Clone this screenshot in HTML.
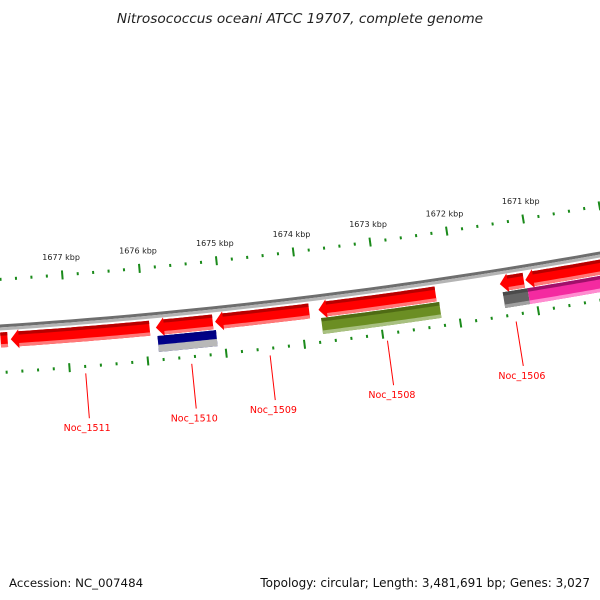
<!DOCTYPE html>
<html><head><meta charset="utf-8"><style>
html,body{margin:0;padding:0;background:#fff;}
svg{display:block;font-family:"DejaVu Sans","Liberation Sans",sans-serif;}
</style></head><body>
<svg id="map" width="600" height="600" viewBox="0 0 600 600">
<text x="300" y="23" text-anchor="middle" font-size="13.7" font-style="italic" fill="#222">Nitrosococcus oceani ATCC 19707, complete genome</text>
<g id="layer"></g>
<text x="9" y="587" font-size="11.8" fill="#111">Accession: NC_007484</text>
<text x="590" y="587" text-anchor="end" font-size="12" fill="#111">Topology: circular; Length: 3,481,691 bp; Genes: 3,027</text>
</svg>
<script>
// data
const tickLabelsKbp = [1671,1672,1673,1674,1675,1676,1677];
const featStart = [1677.85,1677.72,1675.86,1675.10,1673.77,1671.43,1671.10];
const featEnd   = [1677.76,1675.94,1675.13,1673.89,1672.26,1671.12,1669.9];
const featArrow = [false,true,true,true,true,true,true];
const ring2Start = [1675.85,1673.75,1671.41,1671.09];
const ring2End   = [1675.10,1672.23,1671.09,1669.9];
const ring2Color = ["blue","green","gray","pink"];
const geneNames = ["Noc_1511","Noc_1510","Noc_1509","Noc_1508","Noc_1506"];
const geneKbp   = [1676.8,1675.45,1674.45,1672.95,1671.3];
const labelLen  = [55,55,55,55,55];

const PAL={red:['#b80000','#ff0000','#ff7878'],blue:['#000080','#000088','#b8b8b8'],green:['#4f6b14','#6b8e23','#a8c080'],gray:['#4a4a4a','#646464','#a0a0a0'],pink:['#a0106a','#f42aa0','#ff8cd0']};

const P=[[0,327.5],[300,299.5],[600,254.5]];
function circ(a,b,c){const d=2*(a[0]*(b[1]-c[1])+b[0]*(c[1]-a[1])+c[0]*(a[1]-b[1]));
const s=p=>p[0]*p[0]+p[1]*p[1];
const ux=(s(a)*(b[1]-c[1])+s(b)*(c[1]-a[1])+s(c)*(a[1]-b[1]))/d;
const uy=(s(a)*(c[0]-b[0])+s(b)*(a[0]-c[0])+s(c)*(b[0]-a[0]))/d;
return [ux,uy,Math.hypot(a[0]-ux,a[1]-uy)];}
const CC=circ(P[0],P[1],P[2]);
const CX=CC[0], CY=CC[1], R0=CC[2];
function angX(x){const dx=x-CX;const y=CY+Math.sqrt(R0*R0-dx*dx);return Math.atan2(y-CY,dx);}
const A1677=angX(66), A1671=angX(531);
const ang=k=>A1677+(k-1677)*(A1671-A1677)/(1671-1677);
const pt=(k,dr)=>{const a=ang(k),r=R0-dr;return [CX+r*Math.cos(a),CY+r*Math.sin(a)];};
const layer=document.getElementById('layer');
const NS='http://www.w3.org/2000/svg';
function mk(t,attrs){const e=document.createElementNS(NS,t);for(const k in attrs)e.setAttribute(k,attrs[k]);layer.appendChild(e);return e;}
const kpp=(1677-1671)/465;
function band(k1,k2,r1,r2,arrow){const pts=[];const n=40;
 const head=arrow?Math.min(8*kpp,(k1-k2)):0;const ks=k1-head;
 for(let i=0;i<=n;i++){pts.push(pt(ks+(k2-ks)*i/n,r1));}
 for(let i=n;i>=0;i--){pts.push(pt(ks+(k2-ks)*i/n,r2));}
 if(arrow){pts.push(pt(ks,r2-2));pts.push(pt(k1,(r1+r2)/2));pts.push(pt(ks,r1+2));}
 return 'M'+pts.map(p=>p[0].toFixed(2)+','+p[1].toFixed(2)).join('L')+'Z';}
function shaded(k1,k2,r1,r2,arrow,pal,name,lowFrac){
 const g=document.createElementNS(NS,'g');layer.appendChild(g);
 
 
 const h=r1-r2;
 [[r1,r2,pal[1],arrow],[r1,r1-h*0.22,pal[0],false],[r2+h*lowFrac,r2,pal[2],false]].forEach(function(s){
  const e=document.createElementNS(NS,'path');
  const kk1=s[3]?k1:(arrow?k1-8*kpp:k1);
  e.setAttribute('d',band(kk1,k2,s[0],s[1],s[3]));
  e.setAttribute('fill',s[2]);g.appendChild(e);});
}
const bb1=mk('path',{d:band(1678.5,1669.5,3,0,false),fill:'#6e6e6e'});


const bb2=mk('path',{d:band(1678.5,1669.5,0,-3,false),fill:'#b4b4b4'});


const rings=[[48,'outer'],[-45,'inner']];
for(let j=0;j<=44;j++){
 const kk=Math.round((1678.4-j*0.2)*10)/10;const major=Math.abs(kk-Math.round(kk))<0.01;
 rings.forEach(function(rg){const dr=rg[0];
  const L=major?4.5:1.5;const a=pt(kk,dr+L),b=pt(kk,dr-L);
  const t=mk('line',{x1:a[0],y1:a[1],x2:b[0],y2:b[1],stroke:'#1a8a1a','stroke-width':2});
  
  
 });
}
tickLabelsKbp.forEach(function(k){const p=pt(k,63);
 const t=mk('text',{x:p[0],y:p[1],'text-anchor':'middle','font-size':8,fill:'#222'});
 t.textContent=k+' kbp';
 
 });
featStart.forEach(function(s,i){shaded(s,featEnd[i],-5,-20,featArrow[i],PAL.red,'gene-feature',0.22);});
ring2Start.forEach(function(s,i){shaded(s,ring2End[i],-21,-37,false,PAL[ring2Color[i]],'gene-annotation',ring2Color[i]==='blue'?0.45:0.22);});
geneNames.forEach(function(n,i){const a=pt(geneKbp[i],-52),b=pt(geneKbp[i],-52-labelLen[i]+10);
 const l=mk('line',{x1:a[0],y1:a[1],x2:b[0],y2:b[1],stroke:'#ff0000','stroke-width':1});
 
 
 const c=pt(geneKbp[i],-52-labelLen[i]);
 const t=mk('text',{x:c[0]-3,y:c[1]+3,'text-anchor':'middle','font-size':9.5,fill:'#ff0000'});
 t.textContent=n;
 
 });
</script>
</body></html>
